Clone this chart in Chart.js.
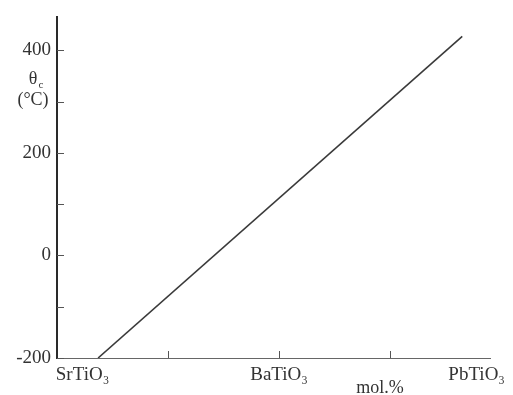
<!DOCTYPE html>
<html>
<head>
<meta charset="utf-8">
<script src="https://cdn.jsdelivr.net/npm/chart.js@4.4.1/dist/chart.umd.min.js"></script>
<style>
  html, body { margin: 0; padding: 0; background: #fff; }
  #c { display: block; }
</style>
</head>
<body>
<canvas id="c" width="513" height="395"></canvas>
<script>
// composition axis: SrTiO3 = 0 ... PbTiO3 end, in tick units
const compNames = ['SrTiO₃', 'BaTiO₃', 'PbTiO₃'];
const compX = [0.23, 2.0, 3.78];
const xTicks = [1, 2, 3];
const yTicks = [-200, -100, 0, 100, 200, 300, 400];
const yLabels = [-200, 0, 200, 400];
// Curie temperature line
const lineX = [0.37, 3.65];
const lineY = [-200, 427];

const serif = '"Liberation Serif", "DejaVu Serif", serif';
const ink = '#333';

const extras = {
    id: 'extras',
    afterDraw(chart) {
        const ctx = chart.ctx, x = chart.scales.x, y = chart.scales.y, a = chart.chartArea;
        ctx.save();
        ctx.strokeStyle = '#555'; ctx.lineWidth = 1;
        yTicks.forEach(v => {
            const py = Math.round(y.getPixelForValue(v)) + 0.5;
            ctx.beginPath(); ctx.moveTo(a.left, py); ctx.lineTo(a.left + 7, py); ctx.stroke();
        });
        xTicks.forEach(v => {
            const px = Math.round(x.getPixelForValue(v)) + 0.5;
            ctx.beginPath(); ctx.moveTo(px, a.bottom); ctx.lineTo(px, a.bottom - 7); ctx.stroke();
        });
        // axis title
        ctx.fillStyle = ink; ctx.textAlign = 'center'; ctx.textBaseline = 'alphabetic';
        ctx.font = '18px ' + serif;
        ctx.fillText('θ', 33, 84);
        ctx.font = '11px ' + serif;
        ctx.fillText('c', 41, 88);
        ctx.font = '18px ' + serif;
        ctx.fillText('(°C)', 33, 105);
        ctx.fillText('mol.%', x.getPixelForValue(2.91), 393);
        ctx.restore();
    }
};

new Chart(document.getElementById('c'), {
    type: 'scatter',
    data: { datasets: [{ data: lineX.map((v, i) => ({ x: v, y: lineY[i] })), showLine: true, borderColor: '#3a3a3a', borderWidth: 1.6, pointRadius: 0 }] },
    options: {
        responsive: false, animation: false,
        layout: { padding: { top: 14, right: 23, left: 0, bottom: 0 } },
        plugins: { legend: { display: false }, tooltip: { enabled: false } },
        scales: {
            x: {
                type: 'linear', min: 0, max: 3.9,
                afterBuildTicks: s => { s.ticks = compX.map(v => ({ value: v })); },
                afterFit: s => { s.height = 37; },
                grid: { display: false, drawTicks: false },
                border: { display: true, color: '#666', width: 1 },
                ticks: { autoSkip: false, maxRotation: 0, padding: 6, color: ink, font: { family: serif, size: 19 },
                    callback: v => compNames[compX.indexOf(v)] }
            },
            y: {
                type: 'linear', min: -200, max: 464,
                afterBuildTicks: s => { s.ticks = yTicks.map(v => ({ value: v })); },
                afterFit: s => { s.width = 57; },
                grid: { display: false, drawTicks: false },
                border: { display: true, color: '#2a2a2a', width: 2 },
                ticks: { autoSkip: false, padding: 6, color: ink, font: { family: serif, size: 19 },
                    callback: v => yLabels.includes(v) ? String(v) : '' }
            }
        }
    },
    plugins: [extras]
});
</script>
</body>
</html>
